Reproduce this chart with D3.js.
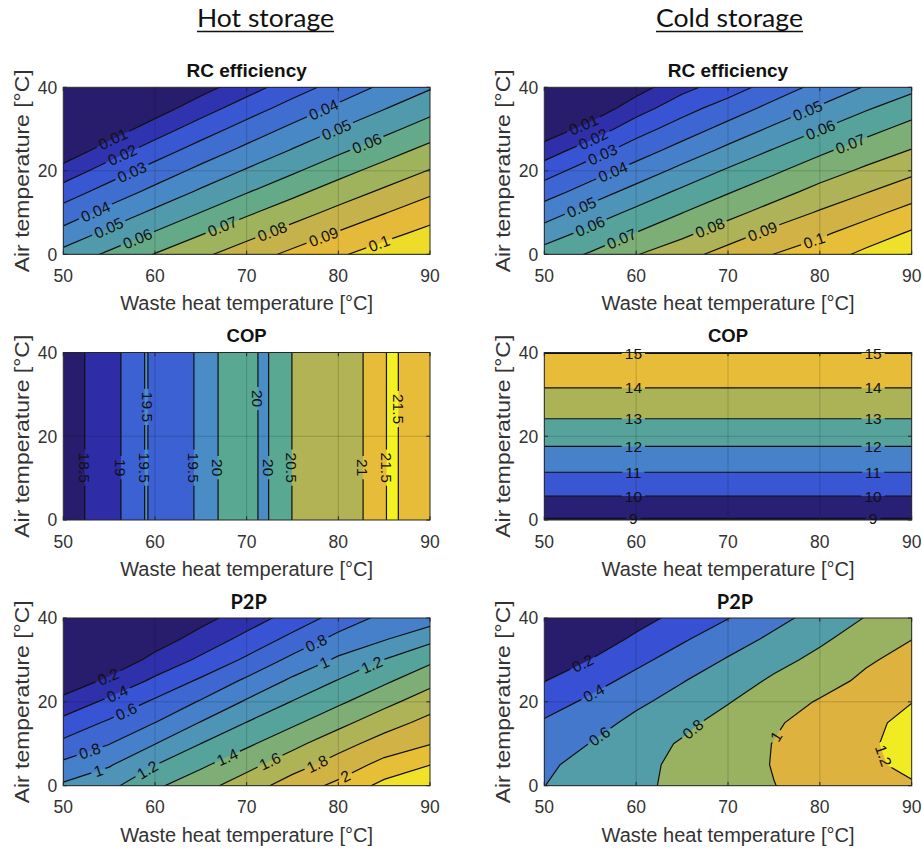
<!DOCTYPE html>
<html><head><meta charset="utf-8">
<script src="https://cdn.jsdelivr.net/npm/d3@7"></script>
<style>
body{margin:0;background:#fff;}
svg text{font-family:"Liberation Sans",Arial,Helvetica,sans-serif;}
</style></head><body>
<svg id="chart" width="922" height="851"></svg>
<script>
// ---------------- DATA ----------------
const wasteHeat = [50,55,60,65,70,75,80,85,90];
const airTemp = [0,5,10,15,20,25,30,35,40];
const wasteHeatFine = [50,51,52,53,54,55,56,57,58,59,60,61,62,63,64,65,66,67,68,69,70,71,72,73,74,75,76,77,78,79,80,81,82,83,84,85,86,87,88,89,90];
const airTempEnds = [0,40];
const wasteHeatEnds = [50,90];
const xTickValues = [50,60,70,80,90];
const yTickValues = [0,20,40];

// RC efficiency, hot storage (rows: air temp 0..40, columns: waste heat 50..90)
const rcHotLevels = [0.01,0.02,0.03,0.04,0.05,0.06,0.07,0.08,0.09,0.1];
const rcHot = [
  [0.0533,0.0617,0.0704,0.0779,0.0853,0.0923,0.0986,0.1047,0.1095],
  [0.0433,0.0527,0.0609,0.0693,0.0768,0.0840,0.0909,0.0971,0.1029],
  [0.0342,0.0431,0.0521,0.0601,0.0684,0.0757,0.0828,0.0895,0.0957],
  [0.0247,0.0342,0.0428,0.0515,0.0593,0.0673,0.0748,0.0816,0.0883],
  [0.0139,0.0248,0.0342,0.0427,0.0510,0.0585,0.0665,0.0738,0.0805],
  [0.0030,0.0145,0.0249,0.0342,0.0424,0.0505,0.0579,0.0655,0.0729],
  [0.0005,0.0043,0.0149,0.0250,0.0341,0.0423,0.0501,0.0572,0.0647],
  [0.0003,0.0010,0.0051,0.0154,0.0251,0.0341,0.0421,0.0495,0.0567],
  [0.0001,0.0005,0.0010,0.0061,0.0157,0.0252,0.0340,0.0420,0.0491]
];
const rcHotLabels = [[0.01,55.3,28.2],[0.02,56.4,24.0],[0.03,57.3,20.6],[0.04,53.6,9.8],[0.05,54.9,6.6],
  [0.06,58.0,4.2],[0.07,67.3,7.0],[0.08,72.7,6.0],[0.09,78.4,4.1],[0.1,84.4,3.0],
  [0.04,78.4,34.6],[0.05,79.8,29.8],[0.06,83.1,26.6]];

// RC efficiency, cold storage
const rcColdLevels = [0.01,0.02,0.03,0.04,0.05,0.06,0.07,0.08,0.09,0.1,0.11];
const rcCold = [
  [0.0644,0.0709,0.0795,0.0863,0.0939,0.1001,0.1051,0.1123,0.1191],
  [0.0548,0.0631,0.0704,0.0778,0.0853,0.0927,0.0984,0.1047,0.1113],
  [0.0452,0.0542,0.0625,0.0698,0.0768,0.0842,0.0910,0.0971,0.1034],
  [0.0355,0.0445,0.0536,0.0619,0.0692,0.0760,0.0832,0.0894,0.0956],
  [0.0253,0.0353,0.0440,0.0530,0.0613,0.0685,0.0755,0.0818,0.0878],
  [0.0144,0.0252,0.0351,0.0437,0.0524,0.0605,0.0679,0.0745,0.0803],
  [0.0033,0.0138,0.0258,0.0349,0.0434,0.0518,0.0597,0.0669,0.0733],
  [0.0008,0.0027,0.0156,0.0261,0.0347,0.0431,0.0512,0.0589,0.0657],
  [0.0003,0.0005,0.0056,0.0170,0.0250,0.0346,0.0430,0.0507,0.0575]
];
const rcColdLabels = [[0.01,54.2,31.4],[0.02,55.3,27.8],[0.03,56.2,24.6],[0.04,57.3,20.6],[0.05,54.1,11.0],
  [0.06,55.0,6.6],[0.07,58.4,3.8],[0.08,68.0,6.6],[0.09,73.7,5.8],[0.1,79.3,3.8],
  [0.05,78.7,34.2],[0.06,80.0,30.2],[0.07,83.3,26.6]];

// COP, hot storage (depends on waste heat temperature only)
const copHotLevels = [18.5,19,19.5,20,20.5,21,21.5];
const copHot = [18.25,18.35,18.45,18.60,18.72,18.84,18.96,19.10,19.30,19.53,
  19.40,19.38,19.40,19.44,19.46,19.62,19.85,20.02,20.15,20.20,
  20.20,20.03,19.90,20.15,20.35,20.51,20.60,20.66,20.72,20.78,
  20.82,20.87,20.93,21.03,21.25,21.48,21.56,21.45,21.40,21.38,21.40];
const copHotLabels = [[18.5,52.4,12.5],[19,56.3,12.5],[19.5,58.8,12.5],[19.5,64.3,12.5],[20,66.9,12.5],
  [20,72.4,12.5],[20.5,74.9,12.5],[21,82.8,12.5],[21.5,85.1,12.5],
  [19.5,59.3,27],[20,71.2,29],[21.5,86.7,26.5]];

// COP, cold storage (depends on air temperature only; rows air temp 0..40)
const copColdLevels = [9,10,11,12,13,14,15];
const copCold = [8.925,9.868,10.768,11.597,12.379,13.123,13.808,14.429,15.024];
const copColdLabels = [[9,59.7,0.4],[10,59.7,5.7],[11,59.7,11.3],[12,59.7,17.5],[13,59.7,24.1],[14,59.7,31.4],[15,59.7,39.8],
  [9,85.8,0.4],[10,85.8,5.7],[11,85.8,11.3],[12,85.8,17.5],[13,85.8,24.1],[14,85.8,31.4],[15,85.8,39.8]];

// P2P, hot storage
const p2pHotLevels = [0.2,0.4,0.6,0.8,1,1.2,1.4,1.6,1.8,2,2.2];
const p2pHot = [
  [1.032,1.150,1.363,1.532,1.699,1.898,2.046,2.260,2.380],
  [0.847,0.981,1.196,1.364,1.541,1.716,1.887,2.060,2.196],
  [0.646,0.794,0.996,1.201,1.363,1.546,1.725,1.885,1.992],
  [0.463,0.632,0.801,1.011,1.206,1.363,1.543,1.717,1.861],
  [0.267,0.446,0.633,0.819,1.025,1.209,1.364,1.542,1.710],
  [0.058,0.245,0.440,0.633,0.838,1.038,1.212,1.365,1.540],
  [0.010,0.041,0.264,0.436,0.637,0.853,1.033,1.206,1.360],
  [0.005,0.005,0.095,0.283,0.454,0.659,0.861,0.984,1.150],
  [0.000,0.000,0.010,0.130,0.307,0.473,0.677,0.853,0.900]
];
const p2pHotLabels = [[0.2,54.9,26.0],[0.4,55.8,22.4],[0.6,56.9,17.6],[0.8,52.9,8.1],[1,53.8,3.7],
  [1.2,59.1,4.1],[1.4,67.8,7.3],[1.6,72.5,6.1],[1.8,77.6,5.7],[2,80.9,1.7],
  [0.8,77.6,33.9],[1,78.4,29.9],[1.2,83.6,29.1]];

// P2P, cold storage
const p2pColdLevels = [0.2,0.4,0.6,0.8,1,1.2];
const p2pCold = [
  [0.598,0.680,0.763,0.843,0.920,0.997,1.058,1.120,1.180],
  [0.578,0.642,0.752,0.840,0.924,1.008,1.085,1.162,1.245],
  [0.500,0.604,0.716,0.819,0.912,1.005,1.088,1.170,1.270],
  [0.422,0.522,0.650,0.752,0.871,0.978,1.072,1.160,1.245],
  [0.314,0.436,0.563,0.673,0.790,0.907,1.017,1.108,1.197],
  [0.195,0.328,0.460,0.591,0.703,0.832,0.925,1.038,1.132],
  [0.076,0.202,0.352,0.484,0.617,0.737,0.853,0.975,1.065],
  [0.020,0.078,0.237,0.376,0.509,0.640,0.766,0.892,0.997],
  [0.010,0.010,0.122,0.266,0.395,0.541,0.672,0.808,0.917]
];
const p2pColdLabels = [[0.2,54.2,29.1],[0.4,55.3,22.4],[0.6,55.9,12.1],[0.8,66.0,14.0],[1,75.3,11.7],[1.2,87.1,7.3]];

// ---------------- STYLE / LAYOUT ----------------
const W = 922, H = 851;
const colX = [{x0:63.3,x1:430},{x0:544.3,x1:911.7}];
const rowY = [{y0:87.3,y1:254.3},{y0:352.5,y1:520},{y0:618,y1:785.7}];
const parulaStops = [0,0.076,0.15,0.25,0.378,0.529,0.64,0.80,0.88,0.94,1];
const parulaColors = ["#281c6c","#2e2ca6","#3750d4","#3e66d2","#4a8cc6","#58a892","#a0b35c","#e3b23c","#eacb32","#f1ea25","#f6f61e"];
const cmap = d3.scaleLinear().domain(parulaStops).range(parulaColors).interpolate(d3.interpolateRgb).clamp(true);

const panels = [
  {col:0,row:0,title:"RC efficiency",tfont:"matlab",xs:wasteHeat,ys:airTemp,z:rcHot,levels:rcHotLevels,labels:rcHotLabels},
  {col:1,row:0,title:"RC efficiency",tfont:"matlab",xs:wasteHeat,ys:airTemp,z:rcCold,levels:rcColdLevels,labels:rcColdLabels},
  {col:0,row:1,title:"COP",tfont:"matlab",xs:wasteHeatFine,ys:airTempEnds,z:airTempEnds.map(()=>copHot),levels:copHotLevels,labels:copHotLabels},
  {col:1,row:1,title:"COP",tfont:"matlab",xs:wasteHeatEnds,ys:airTemp,z:copCold.map(v=>wasteHeatEnds.map(()=>v)),levels:copColdLevels,labels:copColdLabels},
  {col:0,row:2,title:"P2P",tfont:"ppt",xs:wasteHeat,ys:airTemp,z:p2pHot,levels:p2pHotLevels,labels:p2pHotLabels},
  {col:1,row:2,title:"P2P",tfont:"ppt",xs:wasteHeat,ys:airTemp,z:p2pCold,levels:p2pColdLevels,labels:p2pColdLabels}
];

const svg = d3.select("#chart");
svg.append("rect").attr("width",W).attr("height",H).attr("fill","#fff");
const defs = svg.append("defs");

// headers
[["Hot storage",265.5,137],["Cold storage",729.5,147]].forEach(([t,cx,len])=>{
  svg.append("text").attr("x",cx).attr("y",26.5).attr("text-anchor","middle")
    .style("font-family","Lato, 'Open Sans', sans-serif").attr("font-size",25).attr("fill","#111")
    .attr("textLength",len).attr("lengthAdjust","spacingAndGlyphs").text(t);
  svg.append("line").attr("x1",cx-len/2).attr("x2",cx+len/2).attr("y1",31.5).attr("y2",31.5)
    .attr("stroke","#111").attr("stroke-width",1.5);
});

function drawPanel(p, idx){
  const C = colX[p.col], R = rowY[p.row];
  const x = d3.scaleLinear().domain([50,90]).range([C.x0,C.x1]);
  const y = d3.scaleLinear().domain([0,40]).range([R.y1,R.y0]);
  const nx = p.xs.length, ny = p.ys.length;
  const grid = [];
  for (let j=ny-1;j>=0;j--) for (let i=0;i<nx;i++) grid.push(p.z[j][i]);
  const gx = d3.scaleLinear().domain([0.5,nx-0.5]).range([p.xs[0],p.xs[nx-1]]);
  const gy = d3.scaleLinear().domain([0.5,ny-0.5]).range([p.ys[ny-1],p.ys[0]]);
  const toPx = c => [x(gx(c[0])), y(gy(c[1]))];
  const path = d3.geoPath(d3.geoTransform({point(a,b){const q=toPx([a,b]); this.stream.point(q[0],q[1]);}}));
  const [zmin,zmax] = d3.extent(grid);
  const color = v => cmap((v-zmin)/(zmax-zmin));
  const gen = d3.contours().size([nx,ny]).thresholds(p.levels);
  const bands = gen(grid);

  const clipId = "clip"+idx, maskId = "mask"+idx;
  defs.append("clipPath").attr("id",clipId).append("rect")
    .attr("x",C.x0).attr("y",R.y0).attr("width",C.x1-C.x0).attr("height",R.y1-R.y0);
  const g = svg.append("g");
  const fills = g.append("g").attr("clip-path",`url(#${clipId})`);
  fills.append("rect").attr("x",C.x0).attr("y",R.y0).attr("width",C.x1-C.x0).attr("height",R.y1-R.y0).attr("fill",color(zmin));
  fills.selectAll("path").data(bands).join("path").attr("d",path).attr("fill",d=>color(d.value));

  // gridlines
  const gridG = g.append("g").attr("stroke","#000").attr("stroke-opacity",0.17).attr("stroke-width",1);
  xTickValues.slice(1,-1).forEach(v=>gridG.append("line").attr("x1",x(v)).attr("x2",x(v)).attr("y1",R.y0).attr("y2",R.y1));
  yTickValues.slice(1,-1).forEach(v=>gridG.append("line").attr("x1",C.x0).attr("x2",C.x1).attr("y1",y(v)).attr("y2",y(v)));

  // contour lines (masked under labels)
  const mask = defs.append("mask").attr("id",maskId).attr("maskUnits","userSpaceOnUse")
    .attr("x",0).attr("y",0).attr("width",W).attr("height",H);
  mask.append("rect").attr("width",W).attr("height",H).attr("fill","#fff");
  const lineG = g.append("g").attr("clip-path",`url(#${clipId})`).append("g").attr("mask",`url(#${maskId})`);
  lineG.selectAll("path").data(bands).join("path").attr("d",path)
    .attr("fill","none").attr("stroke","#111").attr("stroke-width",1.2);

  // frame and ticks
  g.append("rect").attr("x",C.x0).attr("y",R.y0).attr("width",C.x1-C.x0).attr("height",R.y1-R.y0)
    .attr("fill","none").attr("stroke","#262626").attr("stroke-width",1);
  const tk = 3.7;
  const tickG = g.append("g").attr("stroke","#262626").attr("stroke-width",1);
  xTickValues.forEach(v=>{
    tickG.append("line").attr("x1",x(v)).attr("x2",x(v)).attr("y1",R.y1).attr("y2",R.y1-tk);
    tickG.append("line").attr("x1",x(v)).attr("x2",x(v)).attr("y1",R.y0).attr("y2",R.y0+tk);
  });
  yTickValues.forEach(v=>{
    tickG.append("line").attr("x1",C.x0).attr("x2",C.x0+tk).attr("y1",y(v)).attr("y2",y(v));
    tickG.append("line").attr("x1",C.x1).attr("x2",C.x1-tk).attr("y1",y(v)).attr("y2",y(v));
  });
  const tl = g.append("g").attr("fill","#333").attr("font-size",17.5);
  xTickValues.forEach(v=>tl.append("text").attr("x",x(v)).attr("y",R.y1+27.5).attr("text-anchor","middle").text(v));
  yTickValues.forEach(v=>tl.append("text").attr("x",C.x0-6).attr("y",y(v)).attr("dy","0.36em").attr("text-anchor","end").text(v));

  // axis labels
  g.append("text").attr("x",(C.x0+C.x1)/2).attr("y",R.y1+56).attr("text-anchor","middle")
    .attr("font-size",20).attr("fill","#333").text("Waste heat temperature [°C]");
  const yc = (R.y0+R.y1)/2, xl = C.x0-34.5;
  g.append("text").attr("transform",`translate(${xl},${yc}) rotate(-90)`).attr("text-anchor","middle")
    .attr("font-size",20).attr("fill","#333").attr("textLength",203).attr("lengthAdjust","spacingAndGlyphs")
    .text("Air temperature [°C]");

  // title
  const tt = g.append("text").attr("text-anchor","middle").attr("fill","#111").attr("font-weight","bold").text(p.title);
  if (p.tfont==="ppt") {
    tt.attr("x",(C.x0+C.x1)/2 + (p.col===1?7:2)).attr("y",R.y0-9.5).attr("font-size",20)
      .style("font-family","Lato, 'Open Sans', sans-serif");
  } else {
    tt.attr("x",(C.x0+C.x1)/2).attr("y",R.y0-10.3).attr("font-size",p.title==="COP"?18.5:19);
  }

  // contour labels
  const inside = q => q[0]>=C.x0-0.6 && q[0]<=C.x1+0.6 && q[1]>=R.y0-0.6 && q[1]<=R.y1+0.6;
  const labelG = g.append("g").attr("fill","#111").attr("font-size",15.5);
  p.labels.forEach(([lev,lx,ly])=>{
    const geom = gen.contour(grid, lev);
    const h = [x(lx), y(ly)];
    let best = null;
    geom.coordinates.forEach(poly=>poly.forEach(ring=>{
      for (let k=0;k<ring.length-1;k++){
        const a = toPx(ring[k]), b = toPx(ring[k+1]);
        if (!inside(a)||!inside(b)) continue;
        const dx=b[0]-a[0], dy=b[1]-a[1], L2=dx*dx+dy*dy;
        if (L2<1e-9) continue;
        let t=((h[0]-a[0])*dx+(h[1]-a[1])*dy)/L2; t=Math.max(0,Math.min(1,t));
        const q=[a[0]+t*dx,a[1]+t*dy], d=Math.hypot(q[0]-h[0],q[1]-h[1]);
        if (!best||d<best.d) best={d,q,ang:Math.atan2(dy,dx)*180/Math.PI};
      }
    }));
    if (!best) return;
    let ang = best.ang; while (ang>90) ang-=180; while (ang<=-90) ang+=180;
    const tr = `translate(${best.q[0]},${best.q[1]}) rotate(${ang})`;
    const txt = labelG.append("text").attr("transform",tr).attr("text-anchor","middle").attr("dy","0.36em").text(String(lev));
    const w = txt.node().getComputedTextLength();
    mask.append("rect").attr("transform",tr).attr("x",-w/2-3).attr("y",-7).attr("width",w+6).attr("height",14).attr("fill","#000");
  });
}
panels.forEach(drawPanel);
</script>
</body></html>
